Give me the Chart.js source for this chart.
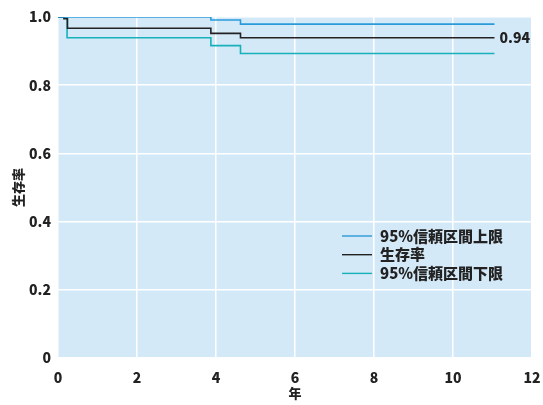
<!DOCTYPE html>
<html>
<head>
<meta charset="utf-8">
<script src="https://cdn.jsdelivr.net/npm/chart.js@4"></script>
<style>
  html, body { margin: 0; padding: 0; background: #fff; }
  #wrap { width: 543px; height: 405px; }
</style>
</head>
<body>
<div id="wrap"><canvas id="km"></canvas></div>
<script>
// survival curve and 95% CI
const upperX = [0, 3.87, 4.62, 11.05];
const upperY = [1.0, 0.991, 0.979, 0.979];
const survX = [0, 0.15, 0.24, 3.87, 4.62, 11.05];
const survY = [1.0, 0.995, 0.967, 0.952, 0.939, 0.939];
const lowerX = [0, 0.23, 3.87, 4.62, 11.05];
const lowerY = [1.0, 0.939, 0.916, 0.893, 0.893];
const seriesNames = ['95%信頼区間上限', '生存率', '95%信頼区間下限'];
const endLabel = '0.94';

const FONT = '"Noto Sans CJK JP", "Noto Sans", sans-serif';
const toPoints = (xs, ys) => xs.map((x, i) => ({ x: x, y: ys[i] }));

// light blue plot background
const plotBg = {
  id: 'plotBg',
  beforeDraw(chart) {
    const { ctx, chartArea: a } = chart;
    ctx.save();
    ctx.fillStyle = '#d4e9f8';
    ctx.fillRect(a.left, a.top, a.right - a.left, a.bottom - a.top);
    ctx.restore();
  }
};

// legend inside the plot + value label at end of survival line
const extras = {
  id: 'extras',
  afterDatasetsDraw(chart) {
    const { ctx, chartArea: a } = chart;
    ctx.save();
    ctx.font = '900 15px ' + FONT;
    ctx.textBaseline = 'middle';
    ctx.textAlign = 'left';
    const lx = a.right - 190;
    const ly = a.top + 219;
    chart.data.datasets.forEach((ds, i) => {
      const y = ly + i * 18.7;
      ctx.strokeStyle = ds.borderColor;
      ctx.lineWidth = 1.4;
      ctx.beginPath();
      ctx.moveTo(lx, y);
      ctx.lineTo(lx + 30, y);
      ctx.stroke();
      ctx.fillStyle = '#222';
      ctx.fillText(ds.label, lx + 38, y);
    });
    // end label
    const meta = chart.getDatasetMeta(1);
    const last = meta.data[meta.data.length - 1];
    ctx.font = '900 14px ' + FONT;
    ctx.fillText(endLabel, last.x + 5, last.y);
    ctx.restore();
  }
};

const tickFont = { family: FONT, size: 14, weight: '900' };

new Chart(document.getElementById('km'), {
  type: 'line',
  data: {
    datasets: [
      { label: seriesNames[0], data: toPoints(upperX, upperY), borderColor: '#2a9bd9' },
      { label: seriesNames[1], data: toPoints(survX, survY), borderColor: '#222222' },
      { label: seriesNames[2], data: toPoints(lowerX, lowerY), borderColor: '#17b1b9' }
    ].map(d => Object.assign(d, { stepped: true, borderWidth: 1.6, pointRadius: 0, fill: false }))
  },
  options: {
    responsive: true,
    maintainAspectRatio: false,
    animation: false,
    layout: { padding: { top: 17, right: 11, left: 0, bottom: 0 } },
    plugins: {
      legend: { display: false },
      tooltip: { enabled: false }
    },
    scales: {
      x: {
        type: 'linear',
        min: 0,
        max: 12,
        border: { display: false },
        grid: { color: '#ffffff', lineWidth: 1.5, drawTicks: false },
        ticks: { stepSize: 2, padding: 11, color: '#222', font: tickFont },
        title: { display: true, text: '年', color: '#222', padding: { top: 0 }, font: { family: FONT, size: 13, weight: '900' } },
        afterFit(s) { s.height = 47; s.paddingLeft = 0; s.paddingRight = 0; }
      },
      y: {
        min: 0,
        max: 1,
        border: { display: false },
        grid: { color: '#ffffff', lineWidth: 1.5, drawTicks: false },
        ticks: {
          stepSize: 0.2,
          padding: 7,
          color: '#222',
          font: tickFont,
          callback: v => (v === 0 ? '0' : v.toFixed(1))
        },
        title: { display: true, text: '生存率', color: '#222', padding: { top: 10, bottom: 0 }, font: { family: FONT, size: 13, weight: '900' } },
        afterFit(s) { s.width = 58; s.paddingTop = 0; s.paddingBottom = 0; }
      }
    }
  },
  plugins: [plotBg, extras]
});
</script>
</body>
</html>
